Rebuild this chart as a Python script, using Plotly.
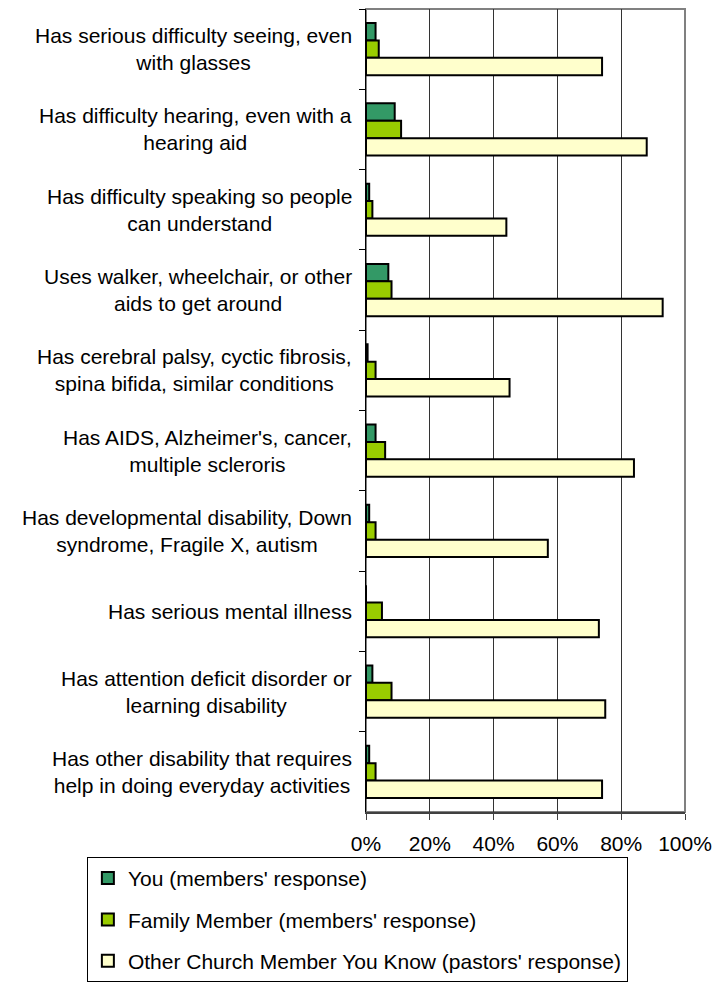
"""Disability prevalence among church members - horizontal grouped bars."""

import plotly.graph_objects as go

CATEGORIES = [
    "Has serious difficulty seeing, even<br>with glasses",
    "Has difficulty hearing, even with a<br>hearing aid",
    "Has difficulty speaking so people<br>can understand",
    "Uses walker, wheelchair, or other<br>aids to get around",
    "Has cerebral palsy, cyctic fibrosis,<br>spina bifida, similar conditions",
    "Has AIDS, Alzheimer's, cancer,<br>multiple scleroris",
    "Has developmental disability, Down<br>syndrome, Fragile X, autism",
    "Has serious mental illness",
    "Has attention deficit disorder or<br>learning disability",
    "Has other disability that requires<br>help in doing everyday activities",
]

YOU = [3, 9, 1, 7, 0.5, 3, 1, 0, 2, 1]
FAMILY = [4, 11, 2, 8, 3, 6, 3, 5, 8, 3]
OTHER = [74, 88, 44, 93, 45, 84, 57, 73, 75, 74]

SERIES = [
    ("You (members' response)", YOU, "#339966"),
    ("Family Member (members' response)", FAMILY, "#99CC00"),
    ("Other Church Member You Know (pastors' response)", OTHER, "#FFFFCC"),
]

fig = go.Figure()
for i, (name, vals, color) in enumerate(SERIES):
    fig.add_trace(go.Bar(
        y=CATEGORIES,
        x=vals,
        name=name,
        orientation="h",
        legendgroup=f"g{i}",
        marker=dict(color=color, line=dict(color="black", width=2)),
    ))

font = dict(family="Liberation Sans, Arial, sans-serif", size=21, color="black")

# category labels: centred lines, block right-aligned against the axis
for cat in CATEGORIES:
    fig.add_annotation(
        x=0, xref="paper", y=cat, yref="y",
        text=cat, showarrow=False,
        xanchor="right", align="center", xshift=-12,
        font=font,
    )

# page body has an 8px margin, so the figure is sized to fit inside it
fig.update_layout(
    width=710,
    height=975,
    margin=dict(l=358, r=33, t=1, b=156),
    paper_bgcolor="white",
    plot_bgcolor="white",
    font=font,
    barmode="group",
    bargap=0.35,
    bargroupgap=0,
    showlegend=True,
    legend=dict(
        x=-0.875, y=-0.056, xanchor="left", yanchor="top",
        bordercolor="black", borderwidth=1, bgcolor="white",
        tracegroupgap=11,
        entrywidth=540,
        font=font,
    ),
    # gray frame on top/right like the original chart
    shapes=[dict(type="rect", xref="paper", yref="paper", x0=0, y0=0, x1=1, y1=1,
                 line=dict(color="#808080", width=2), layer="below")],
)
fig.update_xaxes(
    range=[0, 100], dtick=20, ticksuffix="%",
    showgrid=True, gridcolor="#333333", gridwidth=1,
    showline=True, linecolor="#404040", linewidth=2,
    ticks="outside", ticklen=6, tickcolor="#404040",
    ticklabelstandoff=6,
    zeroline=False,
)
fig.update_yaxes(
    autorange="reversed",
    showticklabels=False,
    showline=True, linecolor="black", linewidth=1,
    ticks="outside", ticklen=6, tickcolor="black",
    tickson="boundaries",
)

fig.write_html("out.html")
